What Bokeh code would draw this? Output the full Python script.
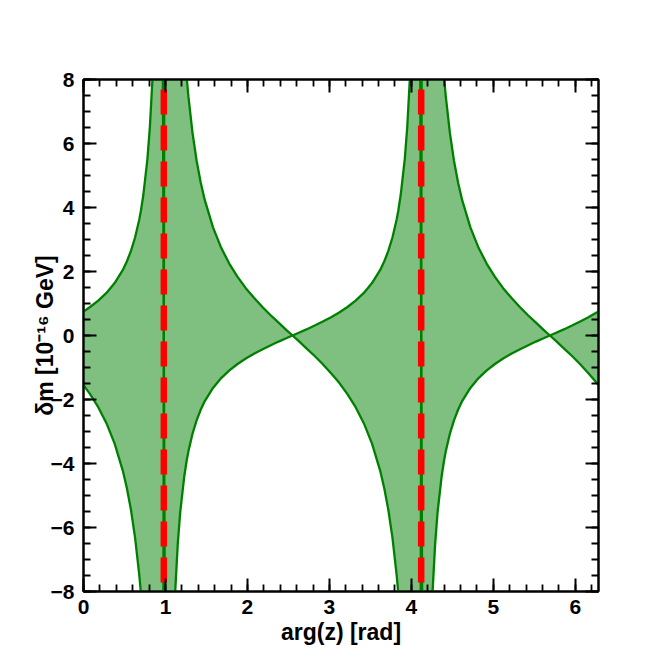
import numpy as np
from bokeh.plotting import figure
from bokeh.models import LinearAxis, FixedTicker, Range1d, CustomJSTickFormatter
from bokeh.embed import file_html
from bokeh.resources import INLINE

# ---- data ----
arg_z = [0.00, 0.08, 0.18, 0.28, 0.38, 0.48, 0.53, 0.58, 0.63, 0.68, 0.70, 0.73, 0.78, 0.81, 0.84, 0.86, 0.88, 0.90, 0.92, 0.94,
         1.02, 1.04, 1.06, 1.08, 1.10, 1.12, 1.15, 1.18, 1.23, 1.26, 1.28, 1.33, 1.38, 1.43, 1.48, 1.58, 1.68, 1.78, 1.88, 1.98,
         2.08, 2.18, 2.28, 2.38, 2.48, 2.55, 2.62, 2.72, 2.82, 2.92, 3.02, 3.12, 3.22, 3.32, 3.42, 3.52,
         3.62, 3.67, 3.72, 3.77, 3.82, 3.84, 3.87, 3.92, 3.95, 3.98, 4.00, 4.02, 4.04, 4.06, 4.08,
         4.16, 4.18, 4.20, 4.22, 4.24, 4.26, 4.29, 4.32, 4.37, 4.40, 4.42, 4.47, 4.52, 4.57, 4.62, 4.72, 4.82, 4.92, 5.02, 5.12,
         5.22, 5.32, 5.42, 5.52, 5.62, 5.69, 5.76, 5.86, 5.96, 6.06, 6.16, 6.26, 6.283]

dm_a = [0.75, 0.89, 1.09, 1.33, 1.64, 2.05, 2.32, 2.65, 3.07, 3.62, 3.89, 4.39, 5.52, 6.52, 7.95, 9.29, 11.16, 13.97, 18.65, 27.99,
        -27.99, -18.65, -13.97, -11.16, -9.29, -7.95, -6.52, -5.52, -4.39, -3.89, -3.62, -3.07, -2.65, -2.32, -2.05, -1.64, -1.33, -1.09, -0.89, -0.72,
        -0.57, -0.44, -0.31, -0.19, -0.08, 0.00, 0.08, 0.19, 0.31, 0.44, 0.57, 0.72, 0.89, 1.09, 1.33, 1.64,
        2.05, 2.32, 2.65, 3.07, 3.62, 3.89, 4.39, 5.52, 6.52, 7.95, 9.29, 11.16, 13.97, 18.65, 27.99,
        -27.99, -18.65, -13.97, -11.16, -9.29, -7.95, -6.52, -5.52, -4.39, -3.89, -3.62, -3.07, -2.65, -2.32, -2.05, -1.64, -1.33, -1.09, -0.89, -0.72,
        -0.57, -0.44, -0.31, -0.19, -0.08, 0.00, 0.08, 0.19, 0.31, 0.44, 0.57, 0.72, 0.75]

dm_b = [-1.55, -1.83, -2.24, -2.74, -3.38, -4.23, -4.78, -5.46, -6.33, -7.47, -8.03, -9.05, -11.40, -13.46, -16.39, -19.16, -23.02, -28.81, -38.46, -57.73,
        57.73, 38.46, 28.81, 23.02, 19.16, 16.39, 13.46, 11.40, 9.05, 8.03, 7.47, 6.33, 5.46, 4.78, 4.23, 3.38, 2.74, 2.24, 1.83, 1.48,
        1.18, 0.90, 0.64, 0.40, 0.16, 0.00, -0.16, -0.40, -0.64, -0.90, -1.18, -1.48, -1.83, -2.24, -2.74, -3.38,
        -4.23, -4.78, -5.46, -6.33, -7.47, -8.03, -9.05, -11.40, -13.46, -16.39, -19.16, -23.02, -28.81, -38.46, -57.73,
        57.73, 38.46, 28.81, 23.02, 19.16, 16.39, 13.46, 11.40, 9.05, 8.03, 7.47, 6.33, 5.46, 4.78, 4.23, 3.38, 2.74, 2.24, 1.83, 1.48,
        1.18, 0.90, 0.64, 0.40, 0.16, 0.00, -0.16, -0.40, -0.64, -0.90, -1.18, -1.48, -1.55]

red_lines_x = [0.98, 4.12]

x_ticks = [0, 1, 2, 3, 4, 5, 6]
x_tick_labels = ["0", "1", "2", "3", "4", "5", "6"]
y_ticks = [-8, -6, -4, -2, 0, 2, 4, 6, 8]
y_tick_labels = ["\u22128", "\u22126", "\u22124", "\u22122", "0", "2", "4", "6", "8"]
x_minor = [i * 0.2 for i in range(0, 32)]
y_minor = [-8 + i * 0.5 for i in range(0, 33)]

x_label = "arg(z) [rad]"
y_label = "\u03b4m [10\u207b\u00b9\u2076 GeV]"

# ---- figure ----
p = figure(width=656, height=656, x_range=Range1d(0, 6.2832), y_range=Range1d(-8, 8),
           output_backend="svg", toolbar_location=None,
           min_border_left=83, min_border_right=58, min_border_top=79, min_border_bottom=65)
p.background_fill_color = "white"
p.border_fill_color = "white"
p.grid.visible = False
p.outline_line_color = "black"
p.outline_line_width = 2

a = np.array(dm_a)
b = np.array(dm_b)
p.varea(x=arg_z, y1=np.minimum(a, b), y2=np.maximum(a, b), fill_color="#008000", fill_alpha=0.5)
p.line(arg_z, dm_a, line_color="#008000", line_width=2.3)
p.line(arg_z, dm_b, line_color="#008000", line_width=2.3)

p.segment(x0=red_lines_x, y0=[8.0] * len(red_lines_x), x1=red_lines_x, y1=[-8.0] * len(red_lines_x),
          line_color="red", line_width=6.5, line_dash="25 11", line_dash_offset=26)

FONT = "Liberation Sans"

def style(ax, ticks, minor, labels=None):
    ax.ticker = FixedTicker(ticks=ticks, minor_ticks=minor)
    ax.axis_line_width = 2
    ax.axis_line_color = "black"
    ax.major_tick_in = 13
    ax.major_tick_out = 0
    ax.minor_tick_in = 7
    ax.minor_tick_out = 0
    ax.major_tick_line_width = 2
    ax.minor_tick_line_width = 1.8
    ax.major_tick_line_color = "black"
    ax.minor_tick_line_color = "black"
    ax.major_label_text_font = FONT
    ax.major_label_text_font_style = "bold"
    ax.major_label_text_font_size = "21px"
    ax.major_label_text_color = "black"
    ax.axis_label_text_font = FONT
    ax.axis_label_text_font_style = "bold"
    ax.axis_label_text_font_size = "23px"
    ax.axis_label_text_color = "black"
    if labels is not None:
        ax.major_label_overrides = dict(zip(ticks, labels))

xa = p.xaxis[0]
style(xa, x_ticks, x_minor, x_tick_labels)
xa.axis_label = x_label
xa.major_label_standoff = 8
xa.axis_label_standoff = 2

ya = p.yaxis[0]
style(ya, y_ticks, y_minor, y_tick_labels)
ya.axis_label = y_label
ya.major_label_standoff = 9
ya.axis_label_standoff = -10

blank = "return ''"
top = LinearAxis()
style(top, x_ticks, x_minor)
top.formatter = CustomJSTickFormatter(code=blank)
p.add_layout(top, "above")
right = LinearAxis()
style(right, y_ticks, y_minor)
right.formatter = CustomJSTickFormatter(code=blank)
p.add_layout(right, "right")

open("out.html", "w").write(file_html(p, INLINE))
